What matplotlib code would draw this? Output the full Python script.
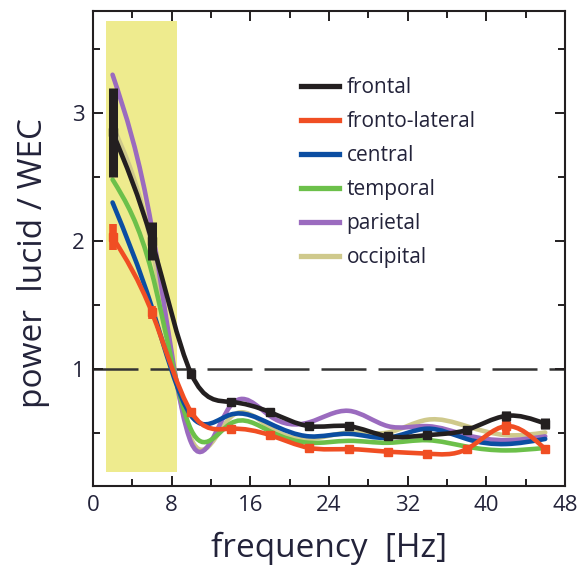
import numpy as np
import matplotlib
matplotlib.use('Agg')
import matplotlib.pyplot as plt
from matplotlib.path import Path
from matplotlib.patches import PathPatch, Rectangle
from matplotlib.lines import Line2D

plt.rcParams['font.family'] = ['Open Sans', 'DejaVu Sans']

# values
freq = [2, 6, 10, 14, 18, 22, 26, 30, 34, 38, 42, 46]
frontal = [2.85, 2.00, 0.96, 0.74, 0.66, 0.55, 0.55, 0.47, 0.48, 0.52, 0.63, 0.57]
frontal_err = [0.35, 0.15, 0.03, 0.03, 0.02, 0.02, 0.02, 0.02, 0.02, 0.02, 0.04, 0.04]
fronto_lateral = [2.03, 1.44, 0.66, 0.53, 0.48, 0.38, 0.37, 0.35, 0.335, 0.37, 0.55, 0.37]
fronto_lateral_err = [0.10, 0.05, 0.03, 0.02, 0.02, 0.02, 0.02, 0.02, 0.02, 0.02, 0.07, 0.03]
central = [2.30, 1.48, 0.63, 0.64, 0.57, 0.47, 0.49, 0.46, 0.53, 0.45, 0.41, 0.45]
temporal = [2.48, 1.75, 0.52, 0.57, 0.51, 0.42, 0.435, 0.42, 0.44, 0.39, 0.36, 0.38]
parietal = [3.30, 2.10, 0.42, 0.71, 0.63, 0.58, 0.67, 0.55, 0.55, 0.48, 0.44, 0.47]
occipital = [2.90, 1.95, 0.45, 0.62, 0.54, 0.45, 0.50, 0.50, 0.60, 0.55, 0.48, 0.50]

band = (1.3, 8.6)      # shaded frequency band [Hz]
band_y = (0.19, 3.72)

xticks = [0, 8, 16, 24, 32, 40, 48]
yticks = [1, 2, 3]

c_black = '#231f20'
c_red = '#f04e23'
c_blue = '#0b4ea2'
c_green = '#6cc04a'
c_purple = '#9b6bbf'
c_khaki = '#cfc98c'
c_text = '#23233a'


def spline_path(x, y):
    # natural cubic spline through the points, drawn as bezier segments
    x = np.asarray(x, float)
    y = np.asarray(y, float)
    n = len(x)
    h = np.diff(x)
    A = np.zeros((n, n))
    b = np.zeros(n)
    A[0, 0] = A[-1, -1] = 1
    for i in range(1, n - 1):
        A[i, i - 1] = h[i - 1]
        A[i, i] = 2 * (h[i - 1] + h[i])
        A[i, i + 1] = h[i]
        b[i] = 6 * ((y[i + 1] - y[i]) / h[i] - (y[i] - y[i - 1]) / h[i - 1])
    M = np.linalg.solve(A, b)
    verts = [(x[0], y[0])]
    codes = [Path.MOVETO]
    for i in range(n - 1):
        s = (y[i + 1] - y[i]) / h[i]
        d0 = s - h[i] * (2 * M[i] + M[i + 1]) / 6
        d1 = s + h[i] * (M[i] + 2 * M[i + 1]) / 6
        verts += [(x[i] + h[i] / 3, y[i] + h[i] / 3 * d0),
                  (x[i + 1] - h[i] / 3, y[i + 1] - h[i] / 3 * d1),
                  (x[i + 1], y[i + 1])]
        codes += [Path.CURVE4] * 3
    return Path(verts, codes)


fig = plt.figure(figsize=(5.77, 5.70), dpi=100)
ax = fig.add_axes([0.161, 0.147, 0.818, 0.834])

ax.add_patch(Rectangle((band[0], band_y[0]), band[1] - band[0], band_y[1] - band_y[0],
                       facecolor='#eeeb8e', edgecolor='none', zorder=0))
ax.axhline(1, color='#333333', lw=1.8, linestyle=(0, (18, 4.8)), zorder=1)

series = [
    (occipital, c_khaki, 'occipital', 2),
    (parietal, c_purple, 'parietal', 3),
    (temporal, c_green, 'temporal', 4),
    (central, c_blue, 'central', 5),
    (fronto_lateral, c_red, 'fronto-lateral', 6),
    (frontal, c_black, 'frontal', 7),
]
for vals, col, name, z in series:
    ax.add_patch(PathPatch(spline_path(freq, vals), fill=False, edgecolor=col,
                           lw=3.3, capstyle='round', joinstyle='round', zorder=z))

ax.errorbar(freq, fronto_lateral, yerr=fronto_lateral_err, fmt='s', ms=6,
            color=c_red, ecolor=c_red, elinewidth=5.5, capsize=0, zorder=6.5)
ax.errorbar(freq, frontal, yerr=frontal_err, fmt='s', ms=6,
            color=c_black, ecolor=c_black, elinewidth=6.5, capsize=0, zorder=7.5)

ax.set_xlim(0, 48)
ax.set_ylim(0.08, 3.8)
ax.set_xticks(xticks)
ax.set_xticks([4, 12, 20, 28, 36, 44], minor=True)
ax.set_yticks(yticks)
ax.set_yticks([0.5, 1.5, 2.5, 3.5], minor=True)
ax.tick_params(which='both', direction='in', top=True, right=True, width=1.4,
               colors=c_black, labelcolor=c_text, labelsize=16)
ax.tick_params(which='major', length=7, pad=6)
ax.tick_params(which='minor', length=5)
for sp in ax.spines.values():
    sp.set_linewidth(1.5)
    sp.set_color(c_black)

ax.set_xlabel('frequency  [Hz]', fontsize=24, color=c_text, labelpad=12)
ax.set_ylabel('power  lucid / WEC', fontsize=24, color=c_text)
ax.yaxis.set_label_coords(-0.09, 0.47)

order = ['frontal', 'fronto-lateral', 'central', 'temporal', 'parietal', 'occipital']
colors = {name: col for _, col, name, _ in series}
handles = [Line2D([], [], color=colors[n], lw=3.8) for n in order]
leg = ax.legend(handles, order, loc='upper left', bbox_to_anchor=(0.44, 0.86),
                frameon=False, fontsize=15, handlelength=1.85, handletextpad=0.35,
                labelspacing=0.62, borderaxespad=0, borderpad=0)
for t in leg.get_texts():
    t.set_color(c_text)

fig.savefig('out.png', dpi=100)
